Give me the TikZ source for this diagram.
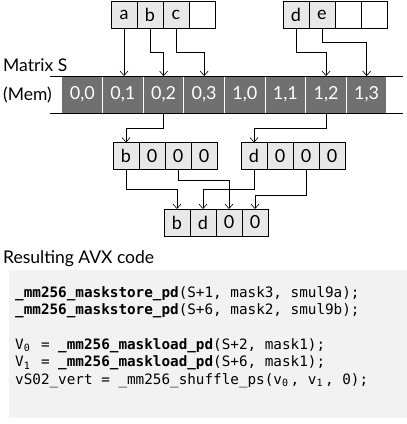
\documentclass[tikz,border=0pt]{standalone}
\usepackage{fontspec}
\setmainfont{Lato}
\setmonofont{DejaVu Sans Mono}
\usetikzlibrary{positioning, arrows.meta}
\definecolor{CellGray}{RGB}{232,232,232}
\definecolor{MemGray}{RGB}{112,112,112}
\definecolor{CodeGray}{RGB}{242,242,242}
\newcommand{\codesub}[1]{\makebox[0.602em][l]{\textsubscript{#1}}}

\begin{document}
\begin{tikzpicture}[x=1pt, y=-1pt, node distance=0pt,
  cell/.style={rectangle, draw, fill=CellGray, minimum width=26pt, minimum height=27pt, outer sep=0pt, inner sep=0pt, font=\fontsize{18}{18}\selectfont},
  blank/.style={cell, fill=white},
  mem/.style={rectangle, draw=white, line width=1pt, fill=MemGray, text=white, minimum width=40.625pt, minimum height=37pt, outer sep=0pt, inner sep=0pt, font=\fontsize{18}{18}\selectfont},
  lbl/.style={anchor=west, inner sep=0pt, font=\fontsize{17.5}{17.5}\selectfont},
  arr/.style={-{Straight Barb[length=4.5pt,width=8pt]}, semithick}]
\useasboundingbox (0,0) rectangle (407,424);
% registers to store
\node[cell] (a) at (124,15) {a};
\node[cell, right=of a] (b) {b};
\node[cell, right=of b] (c) {c};
\node[blank, right=of c] (x1) {};
\node[cell] (d) at (296,15) {d};
\node[cell, right=of d] (e) {e};
\node[blank, right=of e] (x2) {};
\node[blank, right=of x2] (x3) {};
% matrix S in memory
\node[lbl] (matlbl) at (3,65) {Matrix S};
\node[lbl] (memlbl) at (3,95) {(Mem)};
\node[mem] (m00) at (82.3,94.5) {0,0};
\node[mem, right=of m00] (m01) {0,1};
\node[mem, right=of m01] (m02) {0,2};
\node[mem, right=of m02] (m03) {0,3};
\node[mem, right=of m03] (m10) {1,0};
\node[mem, right=of m10] (m11) {1,1};
\node[mem, right=of m11] (m12) {1,2};
\node[mem, right=of m12] (m13) {1,3};
\draw[semithick] ([xshift=-12pt]m00.north west) -- ([xshift=16pt]m13.north east);
\draw[semithick] ([xshift=-12pt]m00.south west) -- ([xshift=16pt]m13.south east);
% loaded registers
\node[cell] (lb) at (126,156) {b};
\node[cell, right=of lb] (lz1) {0};
\node[cell, right=of lz1] (lz2) {0};
\node[cell, right=of lz2] (lz3) {0};
\node[cell] (rd) at (254,156) {d};
\node[cell, right=of rd] (rz1) {0};
\node[cell, right=of rz1] (rz2) {0};
\node[cell, right=of rz2] (rz3) {0};
% shuffled result
\node[cell] (sb) at (177,222.5) {b};
\node[cell, right=of sb] (sd) {d};
\node[cell, right=of sd] (sz1) {0};
\node[cell, right=of sz1] (sz2) {0};
% bend levels
\coordinate (st1) at (0,52);
\coordinate (st2) at (0,42);
\coordinate (ld1) at (0,128);
\coordinate (sh1) at (0,189);
\coordinate (sh2) at (0,180);
\coordinate (sh3) at (0,195);
% stores
\draw[arr] (a.south) -- (a.south |- m01.north);
\draw[arr] (b.south) -- (b.south |- st1) -| (m02.north);
\draw[arr] (c.south) -- (c.south |- st1) -| (m03.north);
\draw[arr] (d.south) -- (d.south |- st1) -| (m12.north);
\draw[arr] (e.south) -- (e.south |- st2) -| (m13.north);
% loads
\draw[arr] (m02.south) -- (m02.south |- ld1) -| (lb.north);
\draw[arr] (m12.south) -- (m12.south |- ld1) -| (rd.north);
% shuffle
\draw[arr] (lb.south) -- (lb.south |- sh1) -| (sb.north);
\draw[arr] (lz2.south) -- (lz2.south |- sh2) -| (sz1.north);
\draw[arr] (rd.south) -- (rd.south |- sh1) -| (sd.north);
\draw[arr] (rz2.south) -- (rz2.south |- sh3) -| (sz2.north);
% code
\node[lbl] (avxlbl) at (3,259) {Resulting AVX code};
\node[fill=CodeGray, anchor=north west, minimum width=398pt, minimum height=148pt, inner sep=0pt] (codebg) at (9,270) {};
\node[anchor=north west, inner sep=0pt, align=left, font=\ttfamily\fontsize{14.3}{15.4}\selectfont] (code) at ([xshift=6pt,yshift=-16pt]codebg.north west) {%
\textbf{\_mm256\_maskstore\_pd}(S+1, mask3, smul9a);\\[2pt]
\textbf{\_mm256\_maskstore\_pd}(S+6, mask2, smul9b);\\[2pt]
\mbox{}\\[2pt]
V\codesub{0} = \textbf{\_mm256\_maskload\_pd}(S+2, mask1);\\[2pt]
V\codesub{1} = \textbf{\_mm256\_maskload\_pd}(S+6, mask1);\\[2pt]
vS02\_vert = \_mm256\_shuffle\_ps(v\codesub{0}, v\codesub{1}, 0);};
\end{tikzpicture}
\end{document}
